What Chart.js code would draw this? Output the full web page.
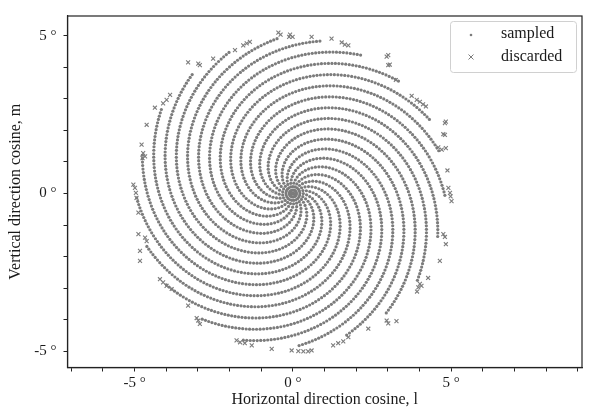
<!DOCTYPE html>
<html><head><meta charset="utf-8">
<script src="https://cdn.jsdelivr.net/npm/chart.js@4.4.1/dist/chart.umd.min.js"></script>
<style>html,body{margin:0;padding:0;background:#fff}</style>
</head><body>
<canvas id="c" width="598" height="411"></canvas>
<script>
// Direction (deg) of each of the 21 spiral arms as it leaves the centre
const armAngle = [14.4, 31.5, 48.7, 65.8, 83.0, 100.1, 117.2, 134.4, 151.5, 168.7, 185.8,
  202.9, 220.1, 237.2, 254.4, 271.5, 288.6, 305.8, 322.9, 340.1, 357.2];
// Outer radius (deg) where each arm's sampled points stop
const armEnd = [4.95, 4.93, 4.95, 4.93, 4.94, 4.93, 4.92, 4.85, 4.82, 4.80, 4.80,
  4.78, 4.80, 4.80, 4.92, 4.90, 4.90, 4.92, 4.94, 4.93, 4.95];
// Radius (deg) of the successive samples along one arm
const profileRadius = [
  0, 0.110, 0.220, 0.328, 0.434, 0.538, 0.639, 0.737, 0.832, 0.923,
  1.011, 1.096, 1.179, 1.259, 1.336, 1.411, 1.484, 1.554, 1.623, 1.690,
  1.755, 1.819, 1.881, 1.941, 2.001, 2.059, 2.116, 2.171, 2.226, 2.279,
  2.332, 2.384, 2.435, 2.485, 2.534, 2.582, 2.630, 2.677, 2.723, 2.769,
  2.814, 2.858, 2.902, 2.945, 2.988, 3.030, 3.072, 3.113, 3.154, 3.194,
  3.234, 3.274, 3.313, 3.352, 3.390, 3.428, 3.466, 3.503, 3.540, 3.576,
  3.612, 3.648, 3.684, 3.719, 3.754, 3.789, 3.823, 3.857, 3.891, 3.924,
  3.957, 3.990, 4.023, 4.055, 4.087, 4.119, 4.151, 4.183, 4.214, 4.245,
  4.276, 4.307, 4.337, 4.367, 4.397, 4.427, 4.457, 4.487, 4.516, 4.545,
  4.574, 4.603, 4.632, 4.660, 4.688, 4.716, 4.744, 4.772, 4.800, 4.828,
  4.855, 4.882, 4.909, 4.936, 4.963, 4.990, 5.017, 5.043];
// Clockwise turn (deg) of the arm at each of those samples
const profileTurn = [
  0, 5.06, 10.12, 15.09, 19.96, 24.75, 29.39, 33.90, 38.27, 42.46,
  46.51, 50.42, 54.23, 57.91, 61.46, 64.91, 68.26, 71.48, 74.66, 77.74,
  80.73, 83.67, 86.53, 89.29, 92.05, 94.71, 97.34, 99.87, 102.40, 104.83,
  107.27, 109.66, 112.01, 114.31, 116.56, 118.77, 120.98, 123.14, 125.26, 127.37,
  129.44, 131.47, 133.49, 135.47, 137.45, 139.38, 141.31, 143.20, 145.08, 146.92,
  148.76, 150.60, 152.40, 154.19, 155.94, 157.69, 159.44, 161.14, 162.84, 164.50,
  166.15, 167.81, 169.46, 171.07, 172.68, 174.29, 175.86, 177.42, 178.99, 180.50,
  182.02, 183.54, 185.06, 186.53, 188.00, 189.47, 190.95, 192.42, 193.84, 195.27,
  196.70, 198.12, 199.50, 200.88, 202.26, 203.64, 205.02, 206.40, 207.74, 209.07,
  210.40, 211.74, 213.07, 214.36, 215.65, 216.94, 218.22, 219.51, 220.80, 222.09,
  223.33, 224.57, 225.81, 227.06, 228.30, 229.54, 230.78, 231.98];
// Discarded samples (l, m in deg)
const discardedL = [-0.46,-0.39,-0.09,-0.01,-0.12,0.59,1.22,1.54,1.64,1.75,2.96,3.01,3.01,3.06,3.25,
  3.75,3.91,4.01,4.11,4.20,4.80,4.83,4.80,4.75,4.59,4.70,4.83,4.88,4.91,4.96,4.98,5.01,4.75,4.80,4.83,
  4.64,4.27,4.01,3.96,3.92,4.06,2.96,3.01,3.27,2.38,1.27,1.43,1.59,1.75,-0.04,0.17,0.33,0.48,0.59,-0.67,
  -1.30,-1.78,-1.67,-1.52,-3.31,-3.04,-2.99,-2.94,-4.20,-4.10,-3.99,-3.83,-4.83,-4.83,-4.88,-4.67,-4.62,
  -4.88,-5.04,-4.99,-4.96,-4.94,-4.78,-4.73,-4.67,-4.75,-4.62,-4.36,-4.10,-3.99,-3.88,-3.31,-2.99,-2.94,
  -2.52,-1.83,-1.57,-1.46,-1.36];
const discardedM = [5.10,5.04,5.04,4.97,4.97,4.97,4.91,4.79,4.72,4.70,4.34,4.39,4.07,4.09,3.60,
  3.10,2.97,2.91,2.83,2.76,2.23,2.28,1.86,1.88,1.46,1.39,1.44,0.73,0.18,0.02,-0.09,-0.24,-1.29,-1.38,-1.61,
  -2.14,-2.68,-2.87,-2.98,-3.11,-2.93,-4.03,-4.12,-4.05,-4.29,-4.82,-4.75,-4.69,-4.56,-4.98,-5.00,-5.01,-5.01,-4.98,-4.93,
  -4.82,-4.66,-4.72,-4.75,-3.56,-3.95,-4.03,-4.14,-2.72,-2.82,-2.93,-3.03,-2.14,-1.82,-1.29,-1.40,-1.51,
  -0.61,0.28,0.18,0.02,-0.14,1.55,1.28,1.18,1.12,2.18,2.72,2.86,2.97,3.13,4.16,4.12,4.07,
  4.28,4.55,4.70,4.76,4.81];
const labeledTicks = [-5, 0, 5];
const seriesNames = ['sampled', 'discarded'];

const sampled = [];
armAngle.forEach((a0, k) => {
  profileRadius.forEach((r, i) => {
    if (r <= armEnd[k]) {
      const t = (a0 - profileTurn[i]) * Math.PI / 180;
      sampled.push({x: r * Math.cos(t), y: r * Math.sin(t)});
    }
  });
});
const discarded = discardedL.map((l, i) => ({x: l, y: discardedM[i]}));

const GREY = '#7c7c7c';
const INK = '#1a1a1a';
const FONT = '"Liberation Serif", "DejaVu Serif", serif';

const framePlugin = {
  id: 'frame',
  afterDraw(chart) {
    const {ctx, chartArea: a} = chart;
    ctx.save();
    ctx.strokeStyle = '#222';
    ctx.lineWidth = 1.2;
    ctx.strokeRect(a.left, a.top, a.right - a.left, a.bottom - a.top);
    // legend
    const x0 = 450.5, y0 = 21.5, w = 126, h = 51;
    ctx.fillStyle = 'rgba(255,255,255,0.85)';
    ctx.strokeStyle = '#d0d0d0';
    ctx.lineWidth = 1;
    ctx.beginPath();
    if (ctx.roundRect) ctx.roundRect(x0, y0, w, h, 3); else ctx.rect(x0, y0, w, h);
    ctx.fill(); ctx.stroke();
    ctx.fillStyle = GREY;
    ctx.beginPath(); ctx.arc(471, 35, 1.3, 0, Math.PI * 2); ctx.fill();
    ctx.strokeStyle = GREY; ctx.lineWidth = 1;
    ctx.beginPath();
    ctx.moveTo(468.5, 54.5); ctx.lineTo(473.5, 59.5);
    ctx.moveTo(473.5, 54.5); ctx.lineTo(468.5, 59.5);
    ctx.stroke();
    ctx.fillStyle = INK;
    ctx.font = '16px ' + FONT;
    ctx.textBaseline = 'middle';
    ctx.fillText(seriesNames[0], 501, 34);
    ctx.fillText(seriesNames[1], 501, 57);
    ctx.restore();
  }
};

const tickCb = v => labeledTicks.includes(v) ? v + ' °' : '';

new Chart(document.getElementById('c'), {
  type: 'scatter',
  data: {
    datasets: [
      {label: seriesNames[0], data: sampled, pointStyle: 'circle', pointRadius: 1.6,
       backgroundColor: GREY, borderWidth: 0, pointHoverRadius: 0},
      {label: seriesNames[1], data: discarded, pointStyle: 'crossRot', pointRadius: 2.8,
       borderColor: GREY, backgroundColor: GREY, borderWidth: 1.1, pointHoverRadius: 0}
    ]
  },
  options: {
    responsive: false,
    animation: false,
    events: [],
    layout: {padding: {left: 0, top: 14, right: 16, bottom: 0}},
    plugins: {legend: {display: false}, tooltip: {enabled: false}},
    scales: {
      x: {
        type: 'linear', min: -7.12, max: 9.13,
        afterFit: s => { s.height = 43.5; },
        border: {display: true, color: '#222', width: 1.2},
        grid: {drawOnChartArea: false, drawTicks: true, tickLength: 4, color: '#222'},
        ticks: {stepSize: 1, includeBounds: false, autoSkip: false, maxRotation: 0,
                callback: tickCb, color: INK, font: {family: FONT, size: 15}, padding: 3},
        title: {display: true, text: 'Horizontal direction cosine, l', color: INK,
                font: {family: FONT, size: 16}, padding: {top: 0, bottom: 2}}
      },
      y: {
        type: 'linear', min: -5.52, max: 5.63,
        afterFit: s => { s.width = 67.5; },
        border: {display: true, color: '#222', width: 1.2},
        grid: {drawOnChartArea: false, drawTicks: true, tickLength: 4, color: '#222'},
        ticks: {stepSize: 1, includeBounds: false, autoSkip: false,
                callback: tickCb, color: INK, font: {family: FONT, size: 15}, padding: 7},
        title: {display: true, text: 'Vertical direction cosine, m', color: INK,
                font: {family: FONT, size: 16}, padding: {top: 6, bottom: 0}}
      }
    }
  },
  plugins: [framePlugin]
});
</script>
</body></html>
